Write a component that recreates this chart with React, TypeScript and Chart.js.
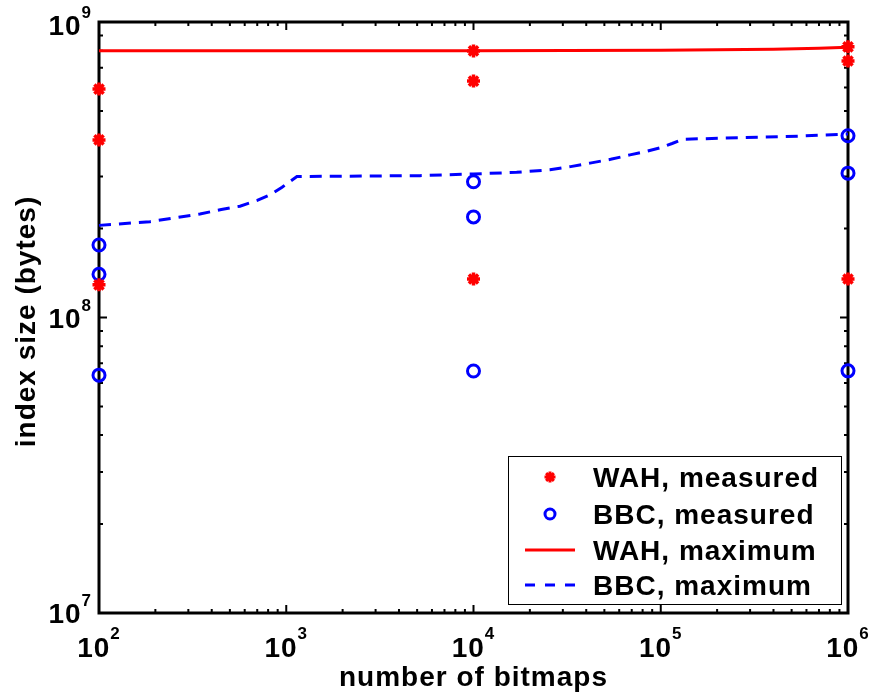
import { useEffect, useRef } from 'react';
import { Chart, registerables } from 'chart.js';
Chart.register(...registerables);

// ---- data ----
const measuredX = [100, 100, 100, 10000, 10000, 10000, 1000000, 1000000, 1000000];
const wahMeasured = [5.93e8, 3.99e8, 1.29e8, 7.98e8, 6.31e8, 1.35e8, 8.24e8, 7.38e8, 1.35e8];
const bbcMeasured = [1.76e8, 1.40e8, 6.38e7, 2.88e8, 2.19e8, 6.59e7, 4.12e8, 3.08e8, 6.6e7];

const wahMaxX = [100, 1000, 10000, 100000, 200000, 400000, 700000, 1000000];
const wahMax = [8.0e8, 8.0e8, 8.0e8, 8.03e8, 8.05e8, 8.09e8, 8.15e8, 8.22e8];

const bbcMaxX = [100, 187, 250, 346, 450, 566, 700, 819, 950, 1140, 5180, 10000, 17000, 25600, 33000, 41900, 54000, 68500, 84000, 99100, 115000, 131500, 555000, 1000000];
const bbcMax = [2.05e8, 2.11e8, 2.17e8, 2.24e8, 2.32e8, 2.38e8, 2.49e8, 2.6e8, 2.76e8, 3.0e8, 3.02e8, 3.06e8, 3.1e8, 3.16e8, 3.24e8, 3.33e8, 3.43e8, 3.55e8, 3.65e8, 3.75e8, 3.88e8, 4.01e8, 4.11e8, 4.18e8];

const xExponents = [2, 3, 4, 5, 6];
const yExponents = [7, 8, 9];
const legendLabels = ['WAH, measured', 'BBC, measured', 'WAH, maximum', 'BBC, maximum'];
const xTitle = 'number of bitmaps';
const yTitle = 'index size (bytes)';

const FONT = '"Liberation Sans", Arial, Helvetica, sans-serif';
const RED = '#ff0000';
const BLUE = '#0000ff';

const zip = (xs: number[], ys: number[]) => xs.map((x, i) => ({ x, y: ys[i] }));

const decor = {
  id: 'decor',
  beforeDatasetsDraw(chart: any) {
    const ctx = chart.ctx as CanvasRenderingContext2D;
    const { left, right, top, bottom } = chart.chartArea;
    const xs = chart.scales.x;
    const ys = chart.scales.y;
    ctx.save();
    ctx.strokeStyle = '#000';
    ctx.lineWidth = 2;
    const xMin = xExponents[0], xMax = xExponents[xExponents.length - 1];
    for (let e = xMin; e <= xMax; e++) {
      for (let k = 1; k <= 9; k++) {
        if (e === xMax && k > 1) break;
        const px = xs.getPixelForValue(k * Math.pow(10, e));
        const len = k === 1 ? 8 : 4;
        ctx.beginPath();
        ctx.moveTo(px, bottom); ctx.lineTo(px, bottom - len);
        ctx.moveTo(px, top); ctx.lineTo(px, top + len);
        ctx.stroke();
      }
    }
    const yMin = yExponents[0], yMax = yExponents[yExponents.length - 1];
    for (let e = yMin; e <= yMax; e++) {
      for (let k = 1; k <= 9; k++) {
        if (e === yMax && k > 1) break;
        const py = ys.getPixelForValue(k * Math.pow(10, e));
        const len = k === 1 ? 8 : 4;
        ctx.beginPath();
        ctx.moveTo(left, py); ctx.lineTo(left + len, py);
        ctx.moveTo(right, py); ctx.lineTo(right - len, py);
        ctx.stroke();
      }
    }
    ctx.lineWidth = 3;
    ctx.strokeRect(left, top, right - left, bottom - top);

    ctx.fillStyle = '#000';
    (ctx as any).letterSpacing = '1px';
    const big = `bold 28px ${FONT}`;
    const small = `bold 17px ${FONT}`;
    ctx.textBaseline = 'alphabetic';
    ctx.textAlign = 'left';
    for (const e of xExponents) {
      const px = xs.getPixelForValue(Math.pow(10, e));
      ctx.font = big;
      const w1 = ctx.measureText('10').width;
      ctx.font = small;
      const w2 = ctx.measureText(String(e)).width;
      const x0 = px - (w1 + w2) / 2;
      ctx.font = big;
      ctx.fillText('10', x0, bottom + 44);
      ctx.font = small;
      ctx.fillText(String(e), x0 + w1, bottom + 26);
    }
    for (const e of yExponents) {
      let py = ys.getPixelForValue(Math.pow(10, e));
      if (e === yMax) py += 3;
      ctx.font = small;
      const w2 = ctx.measureText(String(e)).width;
      ctx.font = big;
      const w1 = ctx.measureText('10').width;
      const xr = left - 7;
      ctx.font = small;
      ctx.fillText(String(e), xr - w2, py - 7);
      ctx.font = big;
      ctx.fillText('10', xr - w2 - w1, py + 10);
    }
    ctx.font = `bold 28px ${FONT}`;
    ctx.textAlign = 'center';
    ctx.fillText(xTitle, (left + right) / 2, bottom + 73);
    ctx.save();
    ctx.translate(35, (top + bottom) / 2 + 4);
    ctx.rotate(-Math.PI / 2);
    ctx.fillText(yTitle, 0, 0);
    ctx.restore();
    ctx.restore();
  },
  afterDatasetsDraw(chart: any) {
    const ctx = chart.ctx as CanvasRenderingContext2D;
    const { right, bottom } = chart.chartArea;
    const bx = right - 340, by = bottom - 157, bw = 333, bh = 148;
    ctx.save();
    ctx.fillStyle = '#fff';
    ctx.fillRect(bx, by, bw, bh);
    ctx.strokeStyle = '#000';
    ctx.lineWidth = 1;
    ctx.strokeRect(bx + 0.5, by + 0.5, bw, bh);
    const rows = [477, 514, 550, 585].map((v) => v - (613 - bottom));
    const sx = bx + 42;
    ctx.strokeStyle = RED;
    ctx.lineWidth = 3;
    ctx.beginPath();
    for (let i = 0; i < 4; i++) {
      const a = (i * Math.PI) / 4;
      ctx.moveTo(sx - 5.5 * Math.cos(a), rows[0] - 5.5 * Math.sin(a));
      ctx.lineTo(sx + 5.5 * Math.cos(a), rows[0] + 5.5 * Math.sin(a));
    }
    ctx.stroke();
    ctx.strokeStyle = BLUE;
    ctx.lineWidth = 3;
    ctx.beginPath();
    ctx.arc(sx, rows[1], 5, 0, Math.PI * 2);
    ctx.stroke();
    ctx.strokeStyle = RED;
    ctx.lineWidth = 3;
    ctx.beginPath();
    ctx.moveTo(sx - 25, rows[2]); ctx.lineTo(sx + 25, rows[2]);
    ctx.stroke();
    ctx.strokeStyle = BLUE;
    ctx.lineWidth = 3;
    ctx.setLineDash([10, 10]);
    ctx.beginPath();
    ctx.moveTo(sx - 25, rows[3]); ctx.lineTo(sx + 25, rows[3]);
    ctx.stroke();
    ctx.setLineDash([]);
    ctx.fillStyle = '#000';
    (ctx as any).letterSpacing = '1px';
    ctx.font = `bold 28px ${FONT}`;
    ctx.textAlign = 'left';
    ctx.textBaseline = 'alphabetic';
    legendLabels.forEach((t, i) => ctx.fillText(t, bx + 85, rows[i] + 10));
    ctx.restore();
  },
};

export default function App() {
  const ref = useRef<HTMLCanvasElement>(null);
  useEffect(() => {
    if (!ref.current) return;
    const chart = new Chart(ref.current, {
      type: 'scatter',
      data: {
        datasets: [
          {
            label: legendLabels[2],
            data: zip(wahMaxX, wahMax),
            showLine: true,
            borderColor: RED,
            borderWidth: 3,
            pointRadius: 0,
            clip: false,
          } as any,
          {
            label: legendLabels[3],
            data: zip(bbcMaxX, bbcMax),
            showLine: true,
            borderColor: BLUE,
            borderWidth: 3,
            borderDash: [12, 8],
            pointRadius: 0,
            clip: false,
          } as any,
          {
            label: legendLabels[0],
            data: zip(measuredX, wahMeasured),
            pointStyle: 'star',
            pointRadius: 6.5,
            borderColor: RED,
            backgroundColor: RED,
            pointBorderWidth: 3.5,
            clip: false,
          } as any,
          {
            label: legendLabels[1],
            data: zip(measuredX, bbcMeasured),
            pointStyle: 'circle',
            pointRadius: 6,
            borderColor: BLUE,
            backgroundColor: 'rgba(0,0,0,0)',
            pointBorderWidth: 3,
            clip: false,
          } as any,
        ],
      },
      options: {
        animation: false,
        responsive: false,
        events: [],
        layout: { padding: { left: 99, right: 25, top: 22, bottom: 87 } },
        plugins: { legend: { display: false }, tooltip: { enabled: false } },
        scales: {
          x: { type: 'logarithmic', min: 100, max: 1e6, display: false },
          y: { type: 'logarithmic', min: 1e7, max: 1e9, display: false },
        },
      },
      plugins: [decor],
    });
    return () => chart.destroy();
  }, []);
  return (
    <div style={{ position: 'absolute', left: 0, top: 0, width: 873, height: 700, background: '#fff' }}>
      <canvas ref={ref} width={873} height={700} />
    </div>
  );
}
